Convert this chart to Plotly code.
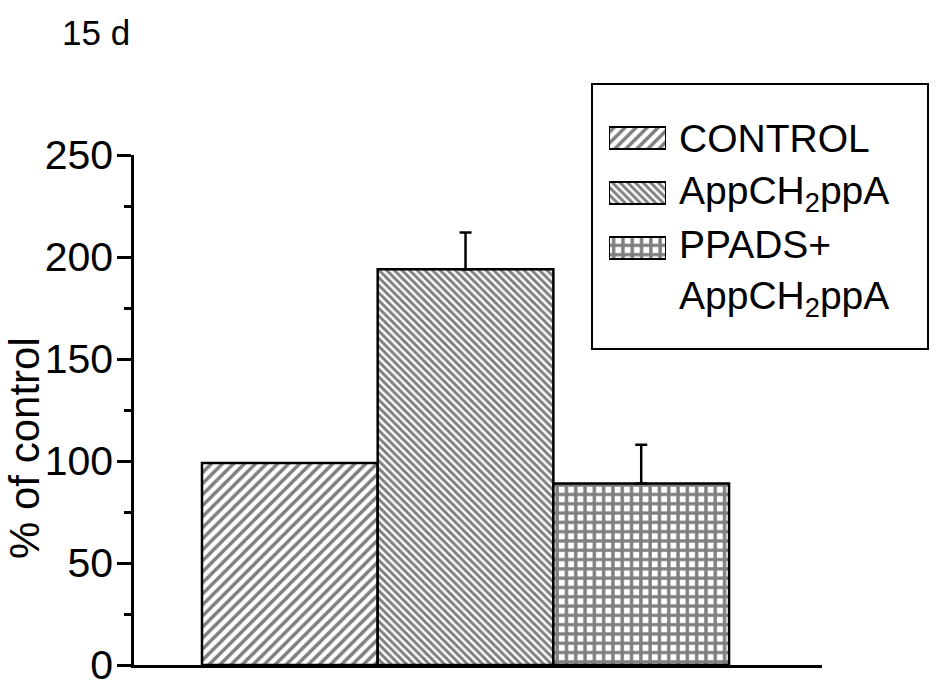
import plotly.graph_objects as go

# Treatment groups, mean response (% of control) and upper SEM
groups = ["CONTROL", "AppCH<sub>2</sub>ppA", "PPADS+<br>AppCH<sub>2</sub>ppA"]
means = [99, 194, 89]
sem_up = [0, 18, 19]
y_ticks = [0, 50, 100, 150, 200, 250]

# Fill hatching per group: shape, tile size (px), line coverage
patterns = ["/", "\\", "+"]
pattern_sizes = [7.8, 5.4, 9.3]
pattern_solid = [0.44, 0.54, 0.6]

FONT = "Liberation Sans, Arial, sans-serif"
W, H = 936, 690


def px_x(p):
    return p / W


def px_y(p):
    return (H - p) / H


fig = go.Figure()

# main bars
for i in range(len(groups)):
    fig.add_trace(go.Bar(
        x=[i], y=[means[i]], width=1, showlegend=False,
        marker=dict(
            color="white",
            line=dict(color="black", width=2.5),
            pattern=dict(shape=patterns[i], size=pattern_sizes[i],
                         solidity=pattern_solid[i], fgcolor="black", bgcolor="white"),
        ),
        error_y=dict(type="data", symmetric=False, array=[sem_up[i]], arrayminus=[0],
                     visible=sem_up[i] > 0, color="black", thickness=2.5, width=6),
        xaxis="x", yaxis="y",
    ))

# key swatches, one row per group
rows = list(range(len(groups)))
for i in rows:
    fig.add_trace(go.Bar(
        y=[i], x=[1], orientation="h", width=0.4, showlegend=False,
        marker=dict(
            color="white",
            line=dict(color="black", width=2),
            pattern=dict(shape=patterns[i], size=pattern_sizes[i],
                         solidity=pattern_solid[i], fgcolor="black", bgcolor="white"),
        ),
        xaxis="x2", yaxis="y2", hoverinfo="skip",
    ))

annotations = [
    dict(text="15 d", x=px_x(60), y=px_y(32), xref="paper", yref="paper",
         xanchor="left", yanchor="middle", showarrow=False, font=dict(size=35)),
    dict(text="% of control", x=px_x(25), y=px_y(448), xref="paper", yref="paper",
         textangle=-90, xanchor="center", yanchor="middle", showarrow=False,
         font=dict(size=42)),
]
for i in rows:
    multi = "<br>" in groups[i]
    annotations.append(dict(
        text=groups[i], x=1, y=i, xref="x2", yref="y2", xanchor="left",
        yanchor="top" if multi else "middle", yshift=27 if multi else 0,
        xshift=11, align="left", showarrow=False, font=dict(size=39),
    ))

fig.update_layout(
    width=W, height=H,
    margin=dict(l=0, r=0, t=0, b=0, autoexpand=False),
    plot_bgcolor="white", paper_bgcolor="white",
    font=dict(family=FONT, color="black", size=40),
    barmode="overlay",
    showlegend=False,
    annotations=annotations,
    shapes=[dict(type="rect", xref="paper", yref="paper",
                 x0=px_x(592), x1=px_x(928), y0=px_y(349), y1=px_y(84),
                 line=dict(color="black", width=2), fillcolor="rgba(0,0,0,0)")],
    xaxis=dict(
        domain=[px_x(134), px_x(822)], range=[-0.887, 3.029],
        showticklabels=False, ticks="", showline=True, linecolor="black",
        linewidth=2.5, showgrid=False, zeroline=False, anchor="y",
        automargin=False,
    ),
    yaxis=dict(
        domain=[px_y(665), px_y(155)], range=[0, 250], tickvals=y_ticks,
        ticks="outside", ticklen=14, tickwidth=2.5, tickcolor="black",
        showline=True, linecolor="black", linewidth=2.5, showgrid=False,
        zeroline=False, tickfont=dict(size=41), ticklabelstandoff=-4,
        minor=dict(dtick=25, ticks="outside", ticklen=7, tickwidth=2.5,
                   tickcolor="black"),
        anchor="x", automargin=False,
    ),
    xaxis2=dict(domain=[px_x(609), px_x(666)], range=[0, 1], visible=False,
                anchor="y2", automargin=False),
    yaxis2=dict(domain=[px_y(275.5), px_y(110.5)], range=[2.5, -0.5],
                visible=False, anchor="x2", automargin=False),
)

fig.write_html("out.html")
